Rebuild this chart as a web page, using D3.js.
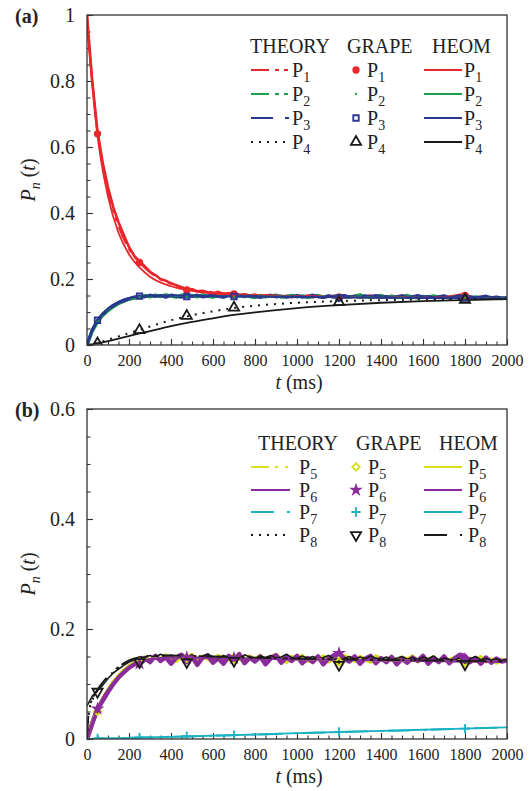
<!DOCTYPE html>
<html>
<head>
<meta charset="utf-8">
<script src="https://cdn.jsdelivr.net/npm/d3@7"></script>
<style>
  body { margin: 0; background: #fff; }
  svg { display: block; }
  svg text { font-family: "Liberation Serif", "DejaVu Serif", serif; }
</style>
</head>
<body>
<svg id="chart" width="530" height="791"></svg>
<script>
// ---- time grids ----
var grapeT = d3.range(0, 2001, 25);          // GRAPE samples every 25 ms
var smoothT = [0, 10, 25, 50, 75, 100, 150, 200, 250, 300, 400, 500, 600, 700, 800, 1000, 1200, 1400, 1600, 1800, 2000];
var markT = [50, 250, 475, 700, 1200, 1800]; // where GRAPE symbols are shown

// ---- panel (a): theory curves ----
var theoryP1 = [1.0, 0.91, 0.80, 0.645, 0.545, 0.47, 0.36, 0.29, 0.25, 0.22, 0.185, 0.168, 0.16, 0.155, 0.152, 0.148, 0.146, 0.145, 0.144, 0.143, 0.142];
var theoryP2 = [0, 0.018, 0.04, 0.068, 0.088, 0.103, 0.124, 0.137, 0.144, 0.147, 0.149, 0.149, 0.148, 0.148, 0.147, 0.146, 0.145, 0.144, 0.143, 0.142, 0.141];
var theoryP3 = [0, 0.019, 0.042, 0.07, 0.09, 0.105, 0.126, 0.138, 0.145, 0.148, 0.149, 0.149, 0.148, 0.148, 0.147, 0.146, 0.145, 0.144, 0.143, 0.142, 0.141];
var theoryP4 = [0, 0.001, 0.003, 0.007, 0.011, 0.016, 0.026, 0.036, 0.046, 0.056, 0.075, 0.09, 0.102, 0.112, 0.119, 0.128, 0.133, 0.136, 0.138, 0.139, 0.14];
// ---- panel (a): HEOM curves ----
var heomP1 = [1.0, 0.90, 0.79, 0.635, 0.53, 0.45, 0.34, 0.275, 0.235, 0.207, 0.178, 0.164, 0.156, 0.152, 0.15, 0.147, 0.145, 0.144, 0.143, 0.142, 0.141];
var heomP2 = [0, 0.02, 0.045, 0.075, 0.095, 0.11, 0.13, 0.141, 0.146, 0.148, 0.149, 0.149, 0.148, 0.148, 0.147, 0.146, 0.145, 0.144, 0.143, 0.142, 0.141];
var heomP3 = [0, 0.021, 0.046, 0.076, 0.096, 0.111, 0.131, 0.142, 0.147, 0.149, 0.15, 0.149, 0.148, 0.148, 0.147, 0.146, 0.145, 0.144, 0.143, 0.142, 0.141];
var heomP4 = [0, 0.001, 0.002, 0.005, 0.008, 0.012, 0.019, 0.027, 0.035, 0.042, 0.057, 0.07, 0.081, 0.091, 0.099, 0.112, 0.121, 0.128, 0.133, 0.136, 0.139];
// ---- panel (a): GRAPE runs (every 25 ms) ----
var grapeP1 = [1.000, 0.800, 0.648, 0.552, 0.478, 0.418, 0.372, 0.334, 0.297, 0.270,
  0.254, 0.238, 0.222, 0.212, 0.200, 0.195, 0.187, 0.181, 0.175, 0.170,
  0.169, 0.163, 0.164, 0.160, 0.157, 0.161, 0.154, 0.157, 0.158, 0.152,
  0.154, 0.150, 0.152, 0.148, 0.151, 0.147, 0.150, 0.146, 0.149, 0.145,
  0.148, 0.146, 0.150, 0.145, 0.148, 0.144, 0.146, 0.149, 0.145, 0.143,
  0.146, 0.149, 0.144, 0.146, 0.150, 0.145, 0.148, 0.144, 0.149, 0.146,
  0.150, 0.145, 0.148, 0.144, 0.146, 0.143, 0.148, 0.145, 0.143, 0.147,
  0.149, 0.152, 0.153, 0.146, 0.143, 0.146, 0.142, 0.145, 0.141, 0.143,
  0.142];
var grapeP2 = [0.000, 0.042, 0.070, 0.090, 0.104, 0.116, 0.126, 0.133, 0.139, 0.142,
  0.145, 0.150, 0.146, 0.151, 0.147, 0.152, 0.148, 0.145, 0.151, 0.147,
  0.150, 0.146, 0.152, 0.148, 0.145, 0.150, 0.147, 0.151, 0.146, 0.148,
  0.152, 0.147, 0.144, 0.150, 0.146, 0.148, 0.151, 0.145, 0.147, 0.150,
  0.146, 0.149, 0.144, 0.147, 0.150, 0.145, 0.148, 0.146, 0.151, 0.147,
  0.145, 0.148, 0.152, 0.146, 0.144, 0.147, 0.150, 0.145, 0.147, 0.144,
  0.146, 0.150, 0.145, 0.143, 0.147, 0.145, 0.149, 0.144, 0.146, 0.143,
  0.145, 0.148, 0.144, 0.142, 0.146, 0.143, 0.146, 0.142, 0.144, 0.141,
  0.143];
var grapeP3 = [0.000, 0.046, 0.075, 0.094, 0.108, 0.120, 0.129, 0.136, 0.141, 0.145,
  0.148, 0.146, 0.151, 0.147, 0.150, 0.145, 0.151, 0.148, 0.145, 0.150,
  0.147, 0.151, 0.146, 0.148, 0.152, 0.147, 0.145, 0.150, 0.147, 0.151,
  0.146, 0.150, 0.147, 0.144, 0.148, 0.151, 0.146, 0.148, 0.145, 0.147,
  0.150, 0.145, 0.147, 0.151, 0.146, 0.144, 0.149, 0.146, 0.147, 0.150,
  0.145, 0.147, 0.144, 0.149, 0.146, 0.150, 0.145, 0.147, 0.144, 0.146,
  0.149, 0.144, 0.146, 0.150, 0.145, 0.147, 0.143, 0.146, 0.149, 0.143,
  0.145, 0.148, 0.144, 0.146, 0.143, 0.145, 0.148, 0.143, 0.145, 0.142,
  0.143];
// GRAPE symbols (at markT)
var markP1 = [0.64, 0.25, 0.167, 0.155, 0.145, 0.15];
var markP2 = [0.07, 0.146, 0.147, 0.146, 0.147, 0.143];
var markP3 = [0.075, 0.148, 0.147, 0.147, 0.143, 0.142];
var markP4 = [0.005, 0.045, 0.088, 0.113, 0.13, 0.137];

// ---- panel (b) ----
var theoryP5 = [0, 0.012, 0.03, 0.055, 0.075, 0.09, 0.115, 0.132, 0.141, 0.146, 0.148, 0.148, 0.147, 0.146, 0.146, 0.145, 0.144, 0.143, 0.142, 0.141, 0.14];
var theoryP6 = [0, 0.012, 0.029, 0.054, 0.074, 0.089, 0.114, 0.131, 0.14, 0.145, 0.148, 0.148, 0.147, 0.146, 0.146, 0.145, 0.144, 0.143, 0.142, 0.141, 0.14];
var theoryP7 = [0, 0, 0, 0.0005, 0.001, 0.001, 0.0015, 0.002, 0.0025, 0.003, 0.004, 0.005, 0.006, 0.007, 0.008, 0.0105, 0.0125, 0.0145, 0.0165, 0.019, 0.021];
var theoryP8 = [0, 0.05, 0.07, 0.088, 0.1, 0.112, 0.13, 0.142, 0.148, 0.151, 0.152, 0.151, 0.15, 0.149, 0.148, 0.146, 0.145, 0.144, 0.143, 0.142, 0.141];
var heomP5 = [0, 0.013, 0.031, 0.056, 0.076, 0.091, 0.116, 0.133, 0.142, 0.146, 0.148, 0.148, 0.147, 0.147, 0.146, 0.145, 0.144, 0.143, 0.142, 0.141, 0.14];
var heomP6 = [0, 0.012, 0.03, 0.055, 0.075, 0.09, 0.115, 0.132, 0.141, 0.145, 0.148, 0.148, 0.147, 0.146, 0.146, 0.145, 0.144, 0.143, 0.142, 0.141, 0.14];
var heomP7 = [0, 0, 0.0002, 0.0005, 0.001, 0.0012, 0.0016, 0.002, 0.0026, 0.003, 0.004, 0.005, 0.006, 0.007, 0.0082, 0.0105, 0.0127, 0.0147, 0.0168, 0.019, 0.0212];
var heomP8 = [0, 0.055, 0.072, 0.09, 0.103, 0.114, 0.131, 0.143, 0.149, 0.151, 0.152, 0.151, 0.15, 0.149, 0.148, 0.146, 0.145, 0.144, 0.143, 0.142, 0.141];
var grapeP5 = [0.000, 0.030, 0.052, 0.072, 0.088, 0.103, 0.114, 0.124, 0.132, 0.138,
  0.141, 0.148, 0.142, 0.150, 0.145, 0.152, 0.146, 0.142, 0.151, 0.147,
  0.153, 0.143, 0.150, 0.146, 0.140, 0.151, 0.147, 0.144, 0.152, 0.146,
  0.142, 0.150, 0.145, 0.151, 0.143, 0.147, 0.153, 0.145, 0.140, 0.149,
  0.146, 0.151, 0.142, 0.147, 0.145, 0.150, 0.141, 0.147, 0.144, 0.151,
  0.146, 0.142, 0.149, 0.145, 0.140, 0.150, 0.146, 0.143, 0.149, 0.142,
  0.148, 0.145, 0.150, 0.141, 0.146, 0.144, 0.149, 0.140, 0.146, 0.143,
  0.148, 0.144, 0.138, 0.146, 0.143, 0.149, 0.141, 0.145, 0.139, 0.144,
  0.142];
var grapeP6 = [0.000, 0.028, 0.055, 0.070, 0.086, 0.100, 0.112, 0.121, 0.130, 0.136,
  0.139, 0.147, 0.140, 0.151, 0.142, 0.149, 0.137, 0.148, 0.153, 0.140,
  0.150, 0.135, 0.148, 0.152, 0.139, 0.147, 0.137, 0.151, 0.143, 0.154,
  0.138, 0.148, 0.141, 0.150, 0.136, 0.147, 0.152, 0.139, 0.149, 0.142,
  0.151, 0.138, 0.147, 0.140, 0.150, 0.136, 0.146, 0.152, 0.156, 0.146,
  0.141, 0.150, 0.137, 0.146, 0.151, 0.138, 0.147, 0.140, 0.149, 0.136,
  0.146, 0.139, 0.148, 0.142, 0.151, 0.137, 0.147, 0.140, 0.150, 0.138,
  0.146, 0.153, 0.151, 0.140, 0.147, 0.137, 0.148, 0.139, 0.146, 0.141,
  0.143];
var grapeP8 = [0.060, 0.078, 0.088, 0.098, 0.110, 0.120, 0.127, 0.134, 0.140, 0.144,
  0.146, 0.149, 0.152, 0.148, 0.154, 0.150, 0.152, 0.147, 0.152, 0.149,
  0.153, 0.147, 0.150, 0.154, 0.149, 0.145, 0.152, 0.148, 0.151, 0.147,
  0.153, 0.149, 0.145, 0.151, 0.148, 0.152, 0.147, 0.149, 0.154, 0.148,
  0.146, 0.151, 0.147, 0.150, 0.145, 0.148, 0.152, 0.146, 0.138, 0.147,
  0.150, 0.145, 0.149, 0.146, 0.151, 0.147, 0.145, 0.149, 0.144, 0.147,
  0.150, 0.145, 0.148, 0.144, 0.149, 0.146, 0.151, 0.144, 0.147, 0.145,
  0.143, 0.148, 0.138, 0.146, 0.150, 0.144, 0.147, 0.143, 0.146, 0.142,
  0.144];
var markP5 = [0.05, 0.14, 0.147, 0.145, 0.14, 0.138];
var markP6 = [0.055, 0.137, 0.148, 0.147, 0.156, 0.145];
var markP7 = [0.001, 0.003, 0.005, 0.007, 0.013, 0.019];
var markP8 = [0.086, 0.14, 0.14, 0.142, 0.135, 0.136];

// ---- colours and styles ----
var FONT = '"Liberation Serif", "DejaVu Serif", serif';
var C = { red: '#e8262b', green: '#1aa04c', blue: '#2b3592', black: '#1a1a1a',
          yellow: '#d6df1e', purple: '#8a2b9c', cyan: '#1ab2c2' };
var DASH_DDOT = '18,6,4,5,4,6', DASH_DOT = '22,12,4,6', DOTS = '2,6';

var triDown = { draw: function(ctx, size) {
  // inverted outline triangle
  var s = Math.sqrt(size / (Math.sqrt(3) / 4)), h = s * Math.sqrt(3) / 2;
  ctx.moveTo(-s / 2, -h / 3); ctx.lineTo(s / 2, -h / 3); ctx.lineTo(0, 2 * h / 3); ctx.closePath();
} };
var triUp = { draw: function(ctx, size) {
  var s = Math.sqrt(size / (Math.sqrt(3) / 4)), h = s * Math.sqrt(3) / 2;
  ctx.moveTo(-s / 2, h / 3); ctx.lineTo(s / 2, h / 3); ctx.lineTo(0, -2 * h / 3); ctx.closePath();
} };

var panels = [
  {
    tag: '(a)', top: 15, yMax: 1, yMajor: [0, 0.2, 0.4, 0.6, 0.8, 1],
    legend: { headY: 53, heads: [250, 347, 432], rows: [70, 94, 118, 142], thText: 292, grText: 367, heText: 464 },
    series: [
      { n: '1', color: C.red, theory: theoryP1, thDash: DASH_DDOT, heom: heomP1, heDash: null, grape: grapeP1, grW: 2.6, mark: markP1,
        sym: { type: d3.symbolCircle, size: 42, fill: C.red, stroke: 'none' } },
      { n: '2', color: C.green, theory: theoryP2, thDash: DASH_DDOT, heom: heomP2, heDash: null, grape: grapeP2, grW: 3.4, mark: markP2,
        sym: { type: d3.symbolCircle, size: 4, fill: C.green, stroke: 'none' } },
      { n: '3', color: C.blue, theory: theoryP3, thDash: DASH_DOT, heom: heomP3, heDash: null, grape: grapeP3, grW: 3.2, mark: markP3,
        sym: { type: d3.symbolSquare, size: 30, fill: 'none', stroke: C.blue } },
      { n: '4', color: C.black, theory: theoryP4, thDash: DOTS, heom: heomP4, heDash: null, grape: null, mark: markP4,
        sym: { type: triUp, size: 45, fill: 'none', stroke: C.black } }
    ]
  },
  {
    tag: '(b)', top: 409, yMax: 0.6, yMajor: [0, 0.2, 0.4, 0.6],
    legend: { headY: 450, heads: [258, 356, 439], rows: [467, 490, 512, 535], thText: 299, grText: 368, heText: 468 },
    series: [
      { n: '5', color: C.yellow, theory: theoryP5, thDash: '18,6,3,7,3,7', heom: heomP5, heDash: null, grape: grapeP5, grW: 4.2, mark: markP5,
        sym: { type: d3.symbolDiamond2, size: 36, fill: 'none', stroke: C.yellow } },
      { n: '6', color: C.purple, theory: theoryP6, thDash: null, heom: heomP6, heDash: null, grape: grapeP6, grW: 4.6, mark: markP6,
        sym: { type: d3.symbolStar, size: 60, fill: C.purple, stroke: 'none' } },
      { n: '7', color: C.cyan, theory: theoryP7, thDash: '23,13,3,4', heom: heomP7, heDash: null, grape: null, mark: markP7,
        sym: { type: d3.symbolPlus, size: 30, fill: 'none', stroke: C.cyan } },
      { n: '8', color: C.black, theory: theoryP8, thDash: DOTS, heom: heomP8, heDash: '23,13,3,4', grape: grapeP8, grW: 1.6, mark: markP8,
        sym: { type: triDown, size: 45, fill: 'none', stroke: C.black } }
    ]
  }
];

var svg = d3.select('#chart');
var X0 = 87, X1 = 507, PH = 330;
var x = d3.scaleLinear().domain([0, 2000]).range([X0, X1]);

panels.forEach(function(p, pi) {
  var y = d3.scaleLinear().domain([0, p.yMax]).range([p.top + PH, p.top]);
  var g = svg.append('g');
  var clipId = 'clip' + pi;
  svg.append('clipPath').attr('id', clipId).append('rect')
    .attr('x', X0).attr('y', p.top).attr('width', X1 - X0).attr('height', PH);

  // minor + major ticks (pointing inward)
  var minorY = d3.range(0, p.yMax + 1e-9, 0.05);
  g.append('g').attr('transform', 'translate(' + X0 + ',0)')
    .call(d3.axisLeft(y).tickValues(minorY).tickSize(-3.5).tickFormat(''));
  g.append('g').attr('class', 'yax').attr('transform', 'translate(' + X0 + ',0)')
    .call(d3.axisLeft(y).tickValues(p.yMajor).tickSize(-6).tickPadding(12)
      .tickFormat(function(d) { return String(+d.toFixed(1)); }));
  g.append('g').attr('transform', 'translate(0,' + (p.top + PH) + ')')
    .call(d3.axisBottom(x).tickValues(d3.range(0, 2001, 50)).tickSize(-3.5).tickFormat(''));
  g.append('g').attr('class', 'xax').attr('transform', 'translate(0,' + (p.top + PH) + ')')
    .call(d3.axisBottom(x).tickValues(d3.range(0, 2001, 200)).tickSize(-6).tickPadding(10)
      .tickFormat(d3.format('d')));
  g.selectAll('.domain').remove();
  g.selectAll('.tick line').attr('stroke', '#333').attr('stroke-width', 1.1);
  g.selectAll('.yax text').attr('font-size', 20).attr('fill', '#222');
  g.selectAll('.xax text').attr('font-size', 16).attr('fill', '#222');

  // data layers
  var plot = svg.append('g').attr('clip-path', 'url(#' + clipId + ')');
  var noisy = d3.line().x(function(d, i) { return x(grapeT[i]); }).y(function(d) { return y(d); });
  var smooth = d3.line().curve(d3.curveMonotoneX)
    .x(function(d, i) { return x(smoothT[i]); }).y(function(d) { return y(d); });

  p.series.forEach(function(s) {
    if (!s.grape) { return; }
    plot.append('path').attr('d', noisy(s.grape)).attr('fill', 'none')
      .attr('stroke', s.color).attr('stroke-width', s.grW).attr('stroke-linejoin', 'round');
  });
  p.series.forEach(function(s) {
    plot.append('path').attr('d', smooth(s.heom)).attr('fill', 'none')
      .attr('stroke', s.color).attr('stroke-width', 1.8)
      .attr('stroke-dasharray', s.heDash);
    plot.append('path').attr('d', smooth(s.theory)).attr('fill', 'none')
      .attr('stroke', s.color).attr('stroke-width', 2)
      .attr('stroke-dasharray', s.thDash);
  });
  p.series.forEach(function(s) {
    plot.selectAll(null).data(s.mark).enter().append('path')
      .attr('transform', function(d, i) { return 'translate(' + x(markT[i]) + ',' + y(d) + ')'; })
      .attr('d', d3.symbol().type(s.sym.type).size(s.sym.size))
      .attr('fill', s.sym.fill).attr('stroke', s.sym.stroke).attr('stroke-width', 1.8);
  });

  // frame
  svg.append('rect').attr('x', X0).attr('y', p.top).attr('width', X1 - X0).attr('height', PH)
    .attr('fill', 'none').attr('stroke', '#333').attr('stroke-width', 1.3);

  // panel tag and axis titles
  svg.append('text').attr('x', 15).attr('y', p.top + 8).attr('font-size', 20)
    .attr('font-weight', 'bold').attr('fill', '#222').text(p.tag);
  var yl = svg.append('text').attr('transform', 'translate(35,' + (p.top + PH / 2) + ') rotate(-90)')
    .attr('text-anchor', 'middle').attr('font-size', 20).attr('fill', '#222');
  yl.append('tspan').attr('font-style', 'italic').text('P');
  yl.append('tspan').attr('font-style', 'italic').attr('font-size', 14).attr('dy', 5).text('n');
  yl.append('tspan').attr('dy', -5).text('\u00a0(');
  yl.append('tspan').attr('font-style', 'italic').text('t');
  yl.append('tspan').text(')');
  var xl = svg.append('text').attr('x', 299).attr('y', p.top + PH + 44)
    .attr('text-anchor', 'middle').attr('font-size', 20).attr('fill', '#222');
  xl.append('tspan').attr('font-style', 'italic').text('t');
  xl.append('tspan').text(' (ms)');

  // legend
  var L = p.legend;
  ['THEORY', 'GRAPE', 'HEOM'].forEach(function(h, i) {
    svg.append('text').attr('x', L.heads[i]).attr('y', L.headY).attr('font-size', 20)
      .attr('fill', '#222').text(h);
  });
  function pLabel(tx, ty, n) {
    var t = svg.append('text').attr('x', tx).attr('y', ty + 7).attr('font-size', 20).attr('fill', '#222');
    t.append('tspan').text('P');
    t.append('tspan').attr('font-size', 14).attr('dy', 5).text(n);
  }
  p.series.forEach(function(s, i) {
    var ry = L.rows[i];
    svg.append('line').attr('x1', 251).attr('x2', 290).attr('y1', ry).attr('y2', ry)
      .attr('stroke', s.color).attr('stroke-width', 2).attr('stroke-dasharray', s.thDash);
    pLabel(L.thText, ry, s.n);
    svg.append('path').attr('transform', 'translate(356,' + ry + ')')
      .attr('d', d3.symbol().type(s.sym.type).size(s.sym.size))
      .attr('fill', s.sym.fill).attr('stroke', s.sym.stroke).attr('stroke-width', 1.8);
    pLabel(L.grText, ry, s.n);
    svg.append('line').attr('x1', 424).attr('x2', 462).attr('y1', ry).attr('y2', ry)
      .attr('stroke', s.color).attr('stroke-width', 2).attr('stroke-dasharray', s.heDash);
    pLabel(L.heText, ry, s.n);
  });
});

// serif everywhere (axis groups default to sans-serif)
svg.selectAll('g').attr('font-family', FONT);
svg.selectAll('text').attr('font-family', FONT);
</script>
</body>
</html>
